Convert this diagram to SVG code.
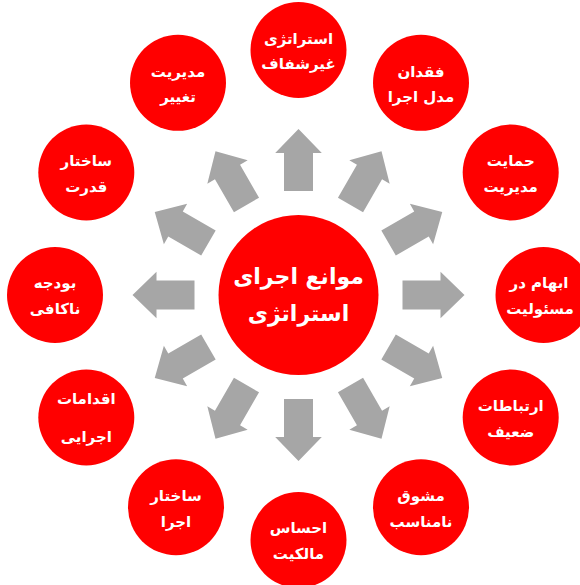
<svg xmlns="http://www.w3.org/2000/svg" xmlns:xlink="http://www.w3.org/1999/xlink" width="580" height="585" viewBox="0 0 580 585">
<style>
.c{fill:#FF0000}
.t{fill:#FFFFFF;font-family:"DejaVu Sans",sans-serif;font-weight:bold;font-size:15px;text-anchor:middle}
.tc{font-size:22px}
.arr{fill:#A6A6A6}
</style>
<defs>
<path id="arr" class="arr" d="M -14.5,-104 L 14.5,-104 L 14.5,-142 L 23.3,-142 L 0,-166 L -23.3,-142 L -14.5,-142 Z"/>
</defs>
<rect width="580" height="585" fill="#FFFFFF"/>
<g id="connectors" transform="translate(298.5,295)">
<use xlink:href="#arr" transform="rotate(0)"/>
<use xlink:href="#arr" transform="rotate(30)"/>
<use xlink:href="#arr" transform="rotate(60)"/>
<use xlink:href="#arr" transform="rotate(90)"/>
<use xlink:href="#arr" transform="rotate(120)"/>
<use xlink:href="#arr" transform="rotate(150)"/>
<use xlink:href="#arr" transform="rotate(180)"/>
<use xlink:href="#arr" transform="rotate(210)"/>
<use xlink:href="#arr" transform="rotate(240)"/>
<use xlink:href="#arr" transform="rotate(270)"/>
<use xlink:href="#arr" transform="rotate(300)"/>
<use xlink:href="#arr" transform="rotate(330)"/>
</g>
<g id="center">
<circle class="c" cx="298.5" cy="295" r="80"/>
<text class="t tc" x="298.5" y="284">موانع اجرای</text>
<text class="t tc" x="298.5" y="321">استراتژی</text>
</g>
<g id="n0">
<circle class="c" cx="298.5" cy="50" r="48"/>
<text class="t" x="298.5" y="44">استراتژی</text>
<text class="t" x="298.5" y="69">غیرشفاف</text>
</g>
<g id="n1">
<circle class="c" cx="421" cy="82.8" r="48"/>
<text class="t" x="421" y="77">فقدان</text>
<text class="t" x="421" y="102">مدل اجرا</text>
</g>
<g id="n2">
<circle class="c" cx="510.7" cy="172.5" r="48"/>
<text class="t" x="510.7" y="166">حمایت</text>
<text class="t" x="510.7" y="192">مدیریت</text>
</g>
<g id="n3">
<circle class="c" cx="543.5" cy="295" r="48"/>
<text class="t" x="539" y="288">ابهام در</text>
<text class="t" x="540" y="314">مسئولیت</text>
</g>
<g id="n4">
<circle class="c" cx="510.7" cy="417.5" r="48"/>
<text class="t" x="510.7" y="411">ارتباطات</text>
<text class="t" x="510.7" y="437">ضعیف</text>
</g>
<g id="n5">
<circle class="c" cx="421" cy="507.2" r="48"/>
<text class="t" x="421" y="501">مشوق</text>
<text class="t" x="421" y="527">نامناسب</text>
</g>
<g id="n6">
<circle class="c" cx="298.5" cy="540" r="48"/>
<text class="t" x="298.5" y="533">احساس</text>
<text class="t" x="298.5" y="559">مالکیت</text>
</g>
<g id="n7">
<circle class="c" cx="176" cy="507.2" r="48"/>
<text class="t" x="176" y="501">ساختار</text>
<text class="t" x="176" y="527">اجرا</text>
</g>
<g id="n8">
<circle class="c" cx="86.3" cy="417.5" r="48"/>
<text class="t" x="86.3" y="404">اقدامات</text>
<text class="t" x="86.3" y="442">اجرایی</text>
</g>
<g id="n9">
<circle class="c" cx="55" cy="295" r="48"/>
<text class="t" x="55" y="288">بودجه</text>
<text class="t" x="55" y="314">ناکافی</text>
</g>
<g id="n10">
<circle class="c" cx="86.3" cy="172.5" r="48"/>
<text class="t" x="86.3" y="166">ساختار</text>
<text class="t" x="86.3" y="192">قدرت</text>
</g>
<g id="n11">
<circle class="c" cx="178" cy="82.8" r="48"/>
<text class="t" x="178" y="77">مدیریت</text>
<text class="t" x="178" y="102">تغییر</text>
</g>
</svg>
